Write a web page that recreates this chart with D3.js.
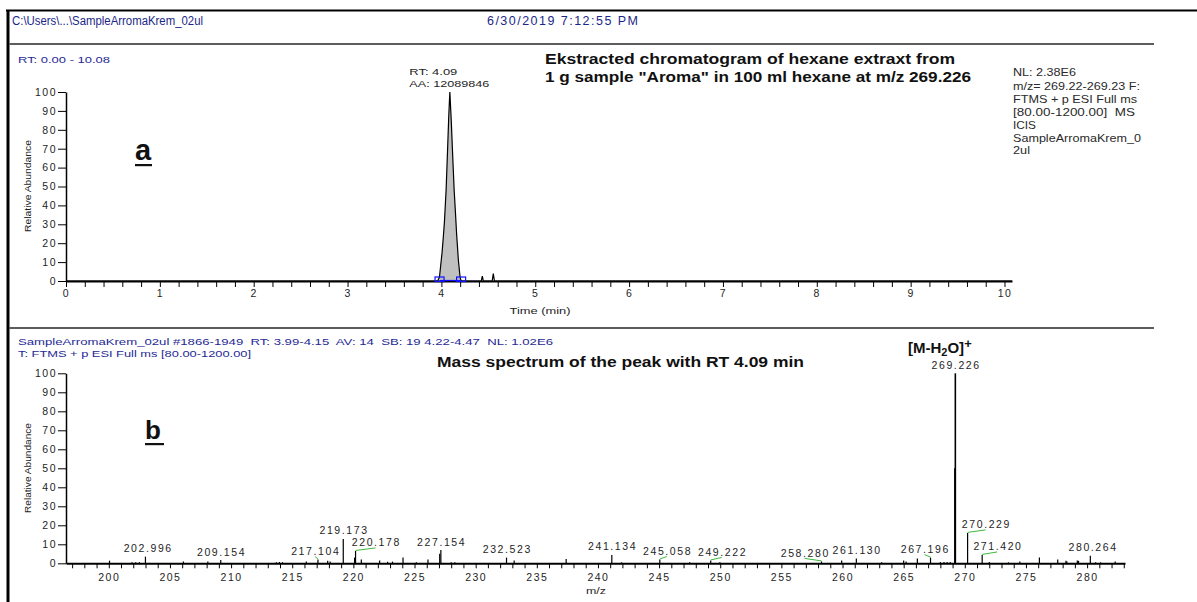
<!DOCTYPE html>
<html>
<head>
<meta charset="utf-8">
<script src="https://cdn.jsdelivr.net/npm/d3@7"></script>
<style>
  body { margin: 0; background: #fff; }
  svg { display: block; }
  text { font-family: "Liberation Sans", Arial, sans-serif; white-space: pre; }
</style>
</head>
<body>
<svg id="chart" width="1197" height="602"></svg>
<script>
// ---- Extracted ion chromatogram, m/z 269.226 (time in min, relative abundance in %) ----
const rtTime  = [0, 3.960, 3.979, 3.990, 4.007, 4.020, 4.032, 4.050, 4.067, 4.079, 4.090, 4.105, 4.118, 4.136, 4.150, 4.162, 4.181, 4.199, 4.210, 4.425, 4.436, 4.447, 4.541, 4.553, 4.565, 10.08];
const rtAbund = [0, 0,     2,     7,     15,    23,    31,    48,    71,    88,    100,   85,    69,    48,    36,    25,    11,    2,     0,     0,     2.6,   0,     0,     3.9,   0,     0];
const rtPeakLimits = [3.98, 4.21];
const rtPeakArea = 12089846;
const rtTickValues = [0, 1, 2, 3, 4, 5, 6, 7, 8, 9, 10];
const abundanceTicks = [0, 10, 20, 30, 40, 50, 60, 70, 80, 90, 100];

// ---- Averaged mass spectrum of the 4.09 min peak (m/z, relative abundance in %) ----
const spectrumMz = [200.06, 201.9, 202.2, 202.5, 202.996, 206.1, 208.1, 209.154, 213.7, 213.95, 214.2,
  216.15, 217.104, 217.9, 218.1, 219.173, 220.1, 220.178, 220.65, 222.15, 222.8, 223.2, 224.06, 225.15,
  226.1, 227.06, 227.154, 228.0, 228.3, 232.523, 233.15, 237.4, 241.134, 241.93, 245.058, 247.5,
  249.222, 249.97, 258.280, 259.93, 261.130, 263.2, 265.0, 265.2, 266.12, 267.196, 268.0, 268.3,
  268.55, 268.8, 269.19, 269.226, 270.229, 271.420, 272.0, 273.57, 274.5, 276.1, 277.6, 278.27,
  278.35, 279.2, 279.3, 280.264, 280.7, 281.1, 282.3];
const spectrumAbund = [1.4, 0.5, 0.5, 0.6, 3.5, 1.0, 1.0, 1.7, 0.6, 0.7, 0.6,
  1.0, 2.0, 1.4, 1.0, 12.8, 3.0, 6.5, 2.0, 1.5, 0.8, 0.9, 3.0, 0.5,
  2.0, 5.0, 7.0, 0.5, 0.5, 3.0, 1.5, 2.3, 4.4, 0.5, 2.0, 0.5,
  1.5, 0.5, 1.0, 1.5, 2.5, 0.5, 1.5, 1.0, 2.5, 3.0, 0.7, 0.7,
  0.7, 0.7, 50, 100, 16, 4.4, 0.7, 0.5, 1.0, 3.0, 2.0, 1.3,
  1.0, 1.5, 1.3, 4.0, 0.5, 0.5, 1.0];
const labelledMz = [202.996, 209.154, 217.104, 219.173, 220.178, 227.154, 232.523, 241.134, 245.058,
  249.222, 258.280, 261.130, 267.196, 269.226, 270.229, 271.420, 280.264];
const mzTickValues = [200, 205, 210, 215, 220, 225, 230, 235, 240, 245, 250, 255, 260, 265, 270, 275, 280];

// horizontal offsets (px) of the peak labels that are pulled aside with a leader
const labelShift = [2, 0, -3, 0, 20, 0, 0, 0, 7, 11, -17, 0, -6, 0, 18, 15, 2];

const FONT = '"Liberation Sans", Arial, sans-serif';
const BLUE = "#1f2a96";
const INK = "#1e1e1e";

const svg = d3.select("#chart");
svg.append("rect").attr("width", 1197).attr("height", 602).attr("fill", "#fff");

function label(g, str, x, y, o = {}) {
  const t = g.append("text")
    .attr("x", x).attr("y", y)
    .attr("fill", o.fill || INK)
    .attr("font-size", o.size || 10)
    .attr("font-weight", o.weight || "normal")
    .attr("text-anchor", o.anchor || "start")
    .text(str);
  if (o.width) t.attr("textLength", o.width).attr("lengthAdjust", o.adjust || "spacingAndGlyphs");
  if (o.spacing) t.style("letter-spacing", o.spacing + "px");
  return t;
}

// ---- page frame ----
const frame = svg.append("g");
frame.append("line").attr("x1", 6).attr("x2", 1197).attr("y1", 10.5).attr("y2", 10.5)
  .attr("stroke", "#000").attr("stroke-width", 2);
frame.append("line").attr("x1", 8).attr("x2", 8).attr("y1", 10).attr("y2", 602)
  .attr("stroke", "#000").attr("stroke-width", 3);
[44, 328].forEach(y => frame.append("line").attr("x1", 9).attr("x2", 1154)
  .attr("y1", y).attr("y2", y).attr("stroke", "#5c5c5c").attr("stroke-width", 2));

label(frame, "C:\\Users\\...\\SampleArromaKrem_02ul", 12, 25, { size: 12.5, fill: "#1a2788", width: 191 });
label(frame, "6/30/2019 7:12:55 PM", 487, 25, { size: 12.5, fill: "#1a2788", width: 151, adjust: "spacing" });

function styleAxis(g, domainWidth) {
  g.attr("font-family", FONT).attr("font-size", 10.5);
  g.select(".domain").attr("stroke", "#000").attr("stroke-width", domainWidth);
  g.selectAll(".tick line").attr("stroke", "#000").attr("stroke-width", 1);
  g.selectAll(".tick text").attr("fill", INK).style("letter-spacing", "1.5px");
}

// =================== Panel a: chromatogram ===================
const pa = svg.append("g");
const xA = d3.scaleLinear().domain([0, 10.08]).range([66, 1012]);
const yA = d3.scaleLinear().domain([0, 100]).range([281, 92]);

label(pa, "RT: 0.00 - 10.08", 18, 63, { size: 9.5, fill: BLUE, width: 92 });

const peakPts = rtTime.map((t, i) => [t, rtAbund[i]])
  .filter(d => d[0] >= rtPeakLimits[0] - 0.001 && d[0] <= rtPeakLimits[1] + 0.001);
pa.append("path")
  .datum(peakPts)
  .attr("fill", "#c0c0c0")
  .attr("d", d3.area().x(d => xA(d[0])).y0(yA(0)).y1(d => yA(d[1])));
pa.append("path")
  .datum(rtTime.map((t, i) => [t, rtAbund[i]]))
  .attr("fill", "none").attr("stroke", "#000").attr("stroke-width", 1.2)
  .attr("d", d3.line().x(d => xA(d[0])).y(d => yA(d[1])));

const gxA = pa.append("g").attr("transform", `translate(0,${yA(0)})`)
  .call(d3.axisBottom(xA)
    .tickValues(d3.range(0, 51).map(i => i / 5))
    .tickSize(6).tickSizeOuter(0).tickPadding(3)
    .tickFormat((d, i) => i % 5 === 0 ? d3.format("d")(d) : ""));
styleAxis(gxA, 2.2);

const gyA = pa.append("g").attr("transform", `translate(${xA(0)},0)`)
  .call(d3.axisLeft(yA).tickValues(abundanceTicks).tickSize(8).tickSizeOuter(0).tickPadding(1));
styleAxis(gyA, 1.5);

// integration limits of the peak
pa.append("line").attr("x1", xA(rtPeakLimits[0])).attr("x2", xA(rtPeakLimits[1]))
  .attr("y1", yA(0) - 0.5).attr("y2", yA(0) - 0.5).attr("stroke", "#1010ff").attr("stroke-width", 1.2);
pa.selectAll("rect.limit").data(rtPeakLimits).join("rect")
  .attr("class", "limit")
  .attr("x", d => xA(d) - 4.5).attr("y", yA(0) - 4).attr("width", 9).attr("height", 4.5)
  .attr("fill", "none").attr("stroke", "#1010ff").attr("stroke-width", 1.2);

// apex annotation
const apexIdx = d3.maxIndex(rtAbund);
const apexX = xA(rtTime[apexIdx]);
label(pa, "RT: " + d3.format(".2f")(rtTime[apexIdx]), apexX - 40.5, 75, { size: 9.5, width: 48 });
label(pa, "AA: " + rtPeakArea, apexX - 40.5, 87, { size: 9.5, width: 80 });

label(pa, "Time (min)", 540, 314, { size: 9.5, anchor: "middle", width: 61 });
label(pa, "Relative Abundance", 0, 0, { size: 9, anchor: "middle", width: 92 })
  .attr("transform", "translate(31,186) rotate(-90)");

label(pa, "Ekstracted chromatogram of hexane extraxt from", 545, 64, { size: 14.5, weight: "bold", fill: "#111", width: 410 });
label(pa, "1 g sample \"Aroma\" in 100 ml hexane at m/z 269.226", 545, 82, { size: 14.5, weight: "bold", fill: "#111", width: 426 });

const infoA = [["NL: 2.38E6", 63], ["m/z= 269.22-269.23 F:", 127], ["FTMS + p ESI Full ms", 124],
  ["[80.00-1200.00]  MS", 122], ["ICIS", 23], ["SampleArromaKrem_0", 128], ["2ul", 17]];
const infoBase = [76, 90, 103, 116, 128.5, 141.5, 154];
infoA.forEach((d, i) => label(pa, d[0], 1013, infoBase[i], { size: 10.5, fill: "#2a2a2a", width: d[1] }));

label(pa, "a", 135, 160, { size: 29, weight: "bold", fill: "#111" });
pa.append("rect").attr("x", 135).attr("y", 164).attr("width", 17).attr("height", 2.2).attr("fill", "#111");

// =================== Panel b: mass spectrum ===================
const pb = svg.append("g");
const xB = d3.scaleLinear().domain([196.5, 283.1]).range([66, 1125]);
const yB = d3.scaleLinear().domain([0, 100]).range([563.3, 373.3]);

label(pb, "SampleArromaKrem_02ul #1866-1949  RT: 3.99-4.15  AV: 14  SB: 19 4.22-4.47  NL: 1.02E6", 18, 345,
  { size: 9.5, fill: BLUE, width: 535 });
label(pb, "T: FTMS + p ESI Full ms [80.00-1200.00]", 18, 357, { size: 9.5, fill: BLUE, width: 233 });

const gxB = pb.append("g").attr("transform", `translate(0,${yB(0)})`)
  .call(d3.axisBottom(xB)
    .tickValues(d3.range(197, 284))
    .tickSize(5).tickSizeOuter(0).tickPadding(5)
    .tickFormat(d => mzTickValues.includes(d) ? d : ""));
styleAxis(gxB, 2);

const gyB = pb.append("g").attr("transform", `translate(${xB.range()[0]},0)`)
  .call(d3.axisLeft(yB).tickValues(abundanceTicks).tickSize(8).tickSizeOuter(0).tickPadding(1));
styleAxis(gyB, 1.5);

const spectrum = spectrumMz.map((m, i) => ({ mz: m, ab: spectrumAbund[i] }));
pb.selectAll("line.peak").data(spectrum).join("line")
  .attr("class", "peak")
  .attr("x1", d => xB(d.mz)).attr("x2", d => xB(d.mz))
  .attr("y1", yB(0)).attr("y2", d => yB(d.ab))
  .attr("stroke", "#000").attr("stroke-width", d => d.ab >= 40 ? 1.6 : 1.2);

const labelled = labelledMz.map((m, i) => {
  const p = spectrum.find(s => Math.abs(s.mz - m) < 1e-6);
  return { mz: m, ab: p.ab, dx: labelShift[i] };
});
// leaders for labels pushed off their peak
pb.selectAll("line.leader").data(labelled.filter(d => Math.abs(d.dx) >= 3)).join("line")
  .attr("class", "leader")
  .attr("x1", d => xB(d.mz)).attr("y1", d => yB(d.ab) - 0.5)
  .attr("x2", d => xB(d.mz) + d.dx).attr("y2", d => yB(d.ab) - 3)
  .attr("stroke", "#3cb93c").attr("stroke-width", 1);
labelled.forEach(d => {
  label(pb, d3.format(".3f")(d.mz), xB(d.mz) + d.dx + 0.8, yB(d.ab) - 4.5,
    { size: 10.5, anchor: "middle", spacing: 1.6 });
});

// annotation of the base peak
const mh = pb.append("text").attr("x", 908).attr("y", 353)
  .attr("font-size", 15).attr("font-weight", "bold").attr("fill", "#111");
mh.append("tspan").text("[M-H");
mh.append("tspan").attr("dy", 3).attr("font-size", 11).text("2");
mh.append("tspan").attr("dy", -3).text("O]");
mh.append("tspan").attr("dy", -5).attr("font-size", 13).text("+");

label(pb, "Mass spectrum of the peak with RT 4.09 min", 437, 367, { size: 14.5, weight: "bold", fill: "#111", width: 367 });

label(pb, "m/z", 596, 594, { size: 9.5, anchor: "middle", width: 20 });
label(pb, "Relative Abundance", 0, 0, { size: 9, anchor: "middle", width: 90 })
  .attr("transform", "translate(31,468) rotate(-90)");

label(pb, "b", 145, 439, { size: 26, weight: "bold", fill: "#111" });
pb.append("rect").attr("x", 145).attr("y", 443).attr("width", 19).attr("height", 2.2).attr("fill", "#111");
</script>
</body>
</html>
